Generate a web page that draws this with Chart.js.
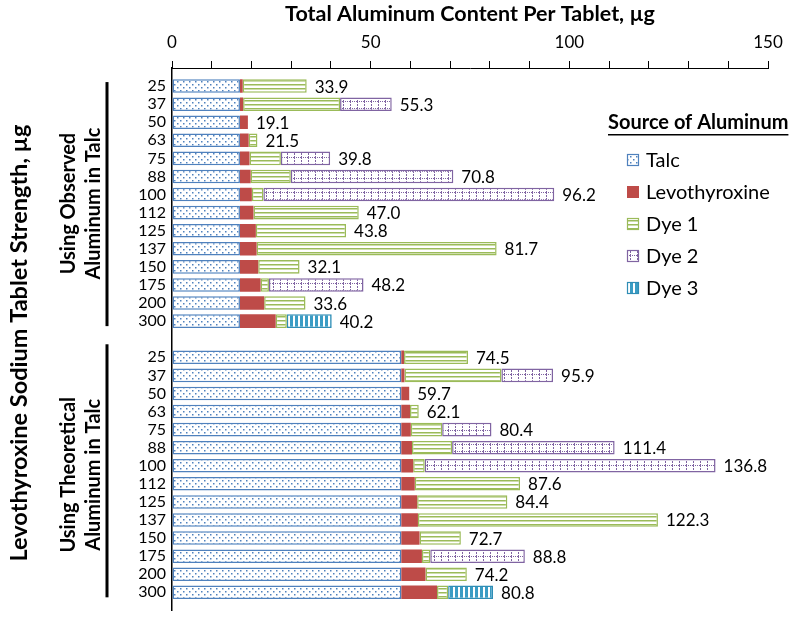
<!DOCTYPE html>
<html>
<head>
<meta charset="utf-8">
<script src="https://cdn.jsdelivr.net/npm/chart.js@4.4.1/dist/chart.umd.min.js"></script>
<style>
  html, body { margin: 0; padding: 0; background: #fff; }
  #wrap { position: relative; width: 797px; height: 626px; }
</style>
</head>
<body>
<div id="wrap"><canvas id="aluminumChart" width="797" height="626"></canvas></div>
<script>
// tablet strengths (same for both groups)
const strengths = ['25', '37', '50', '63', '75', '88', '100', '112', '125', '137', '150', '175', '200', '300'];

// aluminum per tablet by source, µg
const talcObserved    = [17.1, 17.1, 17.1, 17.1, 17.1, 17.1, 17.1, 17.1, 17.1, 17.1, 17.1, 17.1, 17.1, 17.1];
const talcTheoretical = [57.7, 57.7, 57.7, 57.7, 57.7, 57.7, 57.7, 57.7, 57.7, 57.7, 57.7, 57.7, 57.7, 57.7];
const levo = [0.7, 0.8, 2.0, 2.2, 2.4, 2.7, 3.0, 3.4, 4.0, 4.2, 4.6, 5.2, 6.1, 9.0];
const dye1 = [16.1, 24.4, 0, 2.2, 7.9, 10.1, 2.9, 26.5, 22.7, 60.4, 10.4, 2.1, 10.4, 2.8];
const dye2 = [0, 13.0, 0, 0, 12.4, 40.9, 73.2, 0, 0, 0, 0, 23.8, 0, 0];
const dye3 = [0, 0, 0, 0, 0, 0, 0, 0, 0, 0, 0, 0, 0, 11.3];

// totals printed at the end of each bar
const totalObserved    = [33.9, 55.3, 19.1, 21.5, 39.8, 70.8, 96.2, 47.0, 43.8, 81.7, 32.1, 48.2, 33.6, 40.2];
const totalTheoretical = [74.5, 95.9, 59.7, 62.1, 80.4, 111.4, 136.8, 87.6, 84.4, 122.3, 72.7, 88.8, 74.2, 80.8];

const xTicks = [0, 50, 100, 150];
const groupNames = [['Using Observed', 'Aluminum in Talc'], ['Using Theoretical', 'Aluminum in Talc']];
const sourceNames = ['Talc', 'Levothyroxine', 'Dye 1', 'Dye 2', 'Dye 3'];

// blank slot at top, between the groups and at the bottom
const rows = (a, b) => [null, ...a, null, ...b, null];
const labels = rows(strengths, strengths);
const totals = rows(totalObserved, totalTheoretical);

const FONT = 'Lato, "Open Sans", sans-serif';
const canvas = document.getElementById('aluminumChart');
const ctx = canvas.getContext('2d');

function makePattern(w, h, draw) {
    const c = document.createElement('canvas');
    c.width = w;
    c.height = h;
    draw(c.getContext('2d'), w, h);
    return ctx.createPattern(c, 'repeat');
}

const talcFill = makePattern(6, 6, (g, w, h) => {
    g.fillStyle = '#fff'; g.fillRect(0, 0, w, h);
    g.fillStyle = '#4F81BD';
    g.fillRect(0, 0, 1.5, 1.5);
    g.fillRect(3, 3, 1.5, 1.5);
});
const dye1Fill = makePattern(4, 4, (g, w, h) => {
    g.fillStyle = '#fff'; g.fillRect(0, 0, w, h);
    g.fillStyle = '#9BBB59'; g.fillRect(0, 0, w, 1.5);
});
const dye2Fill = makePattern(7, 7, (g, w, h) => {
    g.fillStyle = '#fff'; g.fillRect(0, 0, w, h);
    g.fillStyle = '#8064A2';
    for (let y = 0; y < h; y += 2) g.fillRect(0, y, 1, 1);
    for (let x = 0; x < w; x += 2) g.fillRect(x, 3, 1, 1);
});
const dye3Fill = makePattern(5, 5, (g, w, h) => {
    g.fillStyle = '#fff'; g.fillRect(0, 0, w, h);
    g.fillStyle = '#3A9CC4'; g.fillRect(0, 0, 3, h);
});
const levoFill = '#BE4B48';

const fills = [talcFill, levoFill, dye1Fill, dye2Fill, dye3Fill];
const borders = ['#4F81BD', '#BE4B48', '#9BBB59', '#8064A2', '#2F8DB5'];

const seriesData = [
    rows(talcObserved, talcTheoretical),
    rows(levo, levo),
    rows(dye1, dye1),
    rows(dye2, dye2),
    rows(dye3, dye3)
];

const datasets = sourceNames.map((name, i) => ({
    label: name,
    data: seriesData[i],
    backgroundColor: fills[i],
    borderColor: borders[i],
    borderWidth: i === 1 ? 0 : 1.5,
    borderSkipped: false
}));

// totals, group captions, bracket lines and legend
const annotations = {
    id: 'annotations',
    afterDatasetsDraw(chart) {
        const { ctx, scales: { x, y } } = chart;
        ctx.save();

        ctx.fillStyle = '#000';
        ctx.font = '17px ' + FONT;
        ctx.textAlign = 'left';
        ctx.textBaseline = 'middle';
        totals.forEach((t, i) => {
            if (t === null) return;
            ctx.fillText(t.toFixed(1), x.getPixelForValue(t) + 8, y.getPixelForValue(i) + 1);
        });

        // outer axis title
        ctx.save();
        ctx.translate(19, 343);
        ctx.rotate(-Math.PI / 2);
        ctx.textAlign = 'center';
        ctx.font = 'bold 23.5px ' + FONT;
        ctx.fillText('Levothyroxine Sodium Tablet Strength, µg', 0, 0);
        ctx.restore();

        // group captions with bracket lines
        const spans = [[1, 14, 4], [16, 29, 13]];
        spans.forEach(([a, b, up], gi) => {
            const y0 = y.getPixelForValue(a);
            const y1 = y.getPixelForValue(b);
            const mid = (y0 + y1) / 2;
            ctx.save();
            ctx.translate(69, mid);
            ctx.rotate(-Math.PI / 2);
            ctx.textAlign = 'center';
            ctx.font = 'bold 20px ' + FONT;
            ctx.fillText(groupNames[gi][0], 0, 0);
            ctx.fillText(groupNames[gi][1], 0, 25);
            ctx.restore();
            ctx.fillRect(105.5, y0 - up, 3, y1 - y0 + up + 5);
        });

        // legend
        ctx.textAlign = 'left';
        ctx.font = 'bold 20px ' + FONT;
        const title = 'Source of Aluminum';
        ctx.fillText(title, 608, 123);
        const tw = ctx.measureText(title).width;
        ctx.fillRect(608, 134, tw, 1.5);
        ctx.font = '20px ' + FONT;
        sourceNames.forEach((name, i) => {
            const cy = 160 + i * 32;
            ctx.fillStyle = fills[i];
            ctx.fillRect(627, cy - 6, 12, 12);
            if (i !== 1) {
                ctx.strokeStyle = borders[i];
                ctx.lineWidth = 1.2;
                ctx.strokeRect(627.5, cy - 5.5, 11, 11);
            }
            ctx.fillStyle = '#000';
            ctx.fillText(name, 646, cy + 1);
        });

        ctx.restore();
    }
};

new Chart(ctx, {
    type: 'bar',
    data: { labels: labels, datasets: datasets },
    options: {
        indexAxis: 'y',
        responsive: false,
        animation: false,
        layout: { padding: { left: 0, right: 29, top: 0, bottom: 0 } },
        datasets: { bar: { categoryPercentage: 1, barPercentage: 0.75 } },
        plugins: {
            legend: { display: false },
            tooltip: { enabled: false }
        },
        scales: {
            x: {
                position: 'top',
                stacked: true,
                min: 0,
                max: 150,
                ticks: {
                    stepSize: 10,
                    autoSkip: false,
                    maxRotation: 0,
                    padding: 8,
                    color: '#000',
                    font: { family: FONT, size: 17 },
                    callback: v => xTicks.includes(v) ? String(v) : ''
                },
                grid: { drawOnChartArea: false, drawTicks: true, tickLength: 7, color: '#000', lineWidth: 1 },
                border: { color: '#000', width: 1 },
                title: {
                    display: true,
                    text: 'Total Aluminum Content Per Tablet, µg',
                    color: '#000',
                    font: { family: FONT, size: 21.5, weight: 'bold' },
                    padding: { top: 1, bottom: 6 }
                },
                afterFit: s => { s.height = 68; }
            },
            y: {
                stacked: true,
                offset: false,
                ticks: {
                    autoSkip: false,
                    padding: 6,
                    color: '#000',
                    font: { family: FONT, size: 16 }
                },
                grid: { display: false, drawTicks: false },
                border: { display: true, color: '#000', width: 1.5 },
                afterFit: s => { s.width = 172; }
            }
        }
    },
    plugins: [annotations]
});
</script>
</body>
</html>
